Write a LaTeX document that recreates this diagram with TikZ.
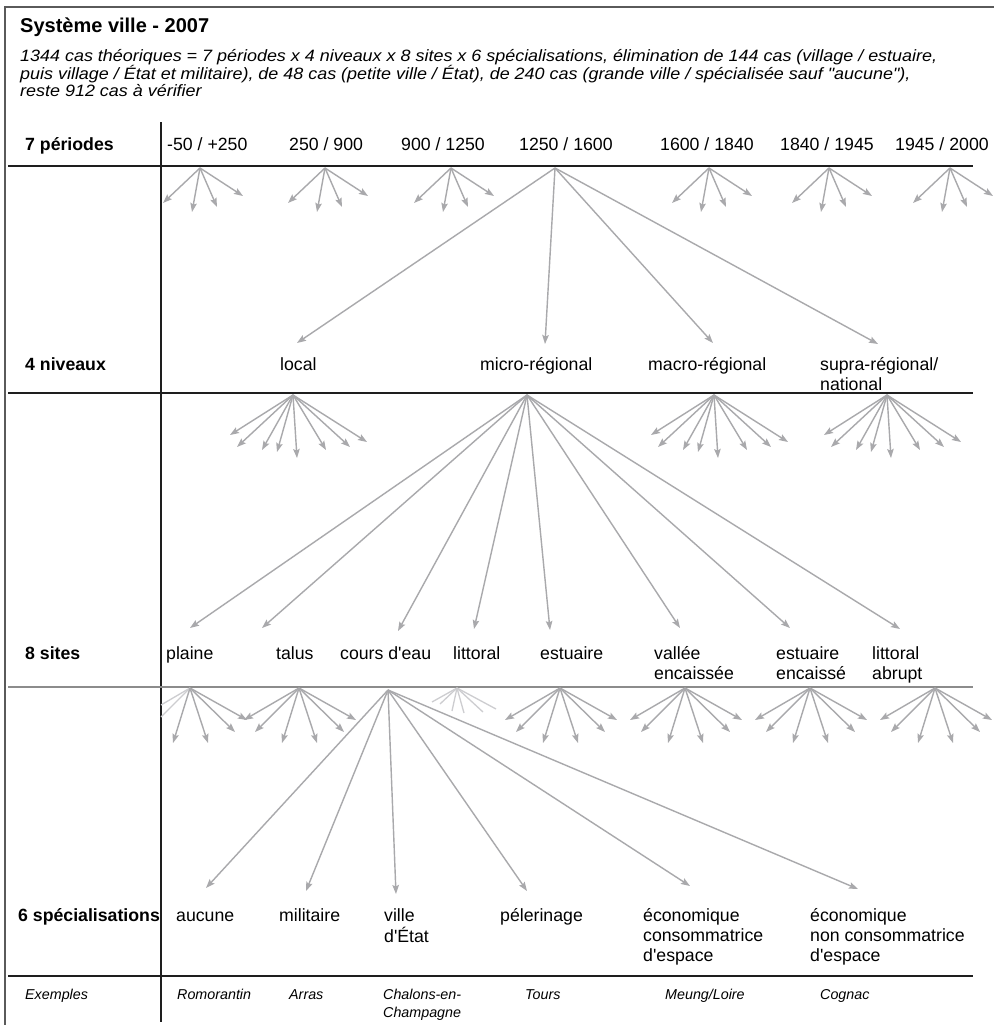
\documentclass[tikz,border=0pt]{standalone}
\usepackage{fontspec}
\newfontfamily\lsans{Liberation Sans}
\newfontfamily\lsanswide{Liberation Sans}[FakeStretch=1.094]
\usetikzlibrary{arrows.meta}
\definecolor{arr}{HTML}{A9A9AC}
\definecolor{arrlight}{HTML}{CDCDD0}
\definecolor{rulek}{HTML}{1E1E1E}
\definecolor{rulegray}{HTML}{8C8C8C}
\definecolor{framec}{HTML}{5A5A5A}
\newcommand{\mlines}[1]{\begin{tabular}[t]{@{}l@{}}#1\end{tabular}}
\begin{document}
\begin{tikzpicture}[x=1pt,y=-1pt,
  lbl/.style={anchor=base west, inner sep=0pt, font=\lsans\fontsize{17.7}{20}\selectfont},
  rowhead/.style={anchor=base west, inner sep=0pt, font=\lsans\bfseries\fontsize{17.7}{20}\selectfont},
  ex/.style={anchor=base west, inner sep=0pt, font=\lsans\itshape\fontsize{14.3}{18}\selectfont},
  note/.style={anchor=base west, inner sep=0pt, font=\lsanswide\itshape\fontsize{16.4}{17}\selectfont},
  ttl/.style={anchor=base west, inner sep=0pt, font=\lsans\bfseries\fontsize{20}{22}\selectfont},
  fan/.style={draw=arr, line width=1.4pt, -{Stealth[length=9pt,width=6.5pt,inset=1.5pt]}},
  faint/.style={draw=arrlight, line width=1.3pt},
  rulerow/.style={draw=rulek, line width=1.8pt},
]
\useasboundingbox (0,0) rectangle (994,1025);
\fill[white] (0,0) rectangle (994,1025);

% frame
\draw[framec, line width=1.5pt] (5,1025) -- (5,7) -- (994,7);

% title and note
\node[ttl] (title) at (20,33) {Système ville - 2007};
\node[note] (n1) at (20,62) {1344 cas théoriques = 7 périodes x 4 niveaux x 8 sites x 6 spécialisations, élimination de 144 cas (village / estuaire,};
\node[note] (n2) at (20,79) {puis village / État et militaire), de 48 cas (petite ville / État), de 240 cas (grande ville / spécialisée sauf "aucune"),};
\node[note] (n3) at (20,96) {reste 912 cas à vérifier};

% rules
\draw[rulek, line width=1.6pt] (161,122) -- (161,1022);
\draw[rulerow] (8,166) -- (973,166);
\draw[rulerow] (8,393) -- (973,393);
\draw[rulegray, line width=1.8pt] (8,687) -- (973,687);
\draw[rulerow] (8,976) -- (973,976);

% row 1: periods
\node[rowhead] (h1) at (25,150) {7 périodes};
\node[lbl] (t1) at (167,150) {-50 / +250};
\node[lbl] (t2) at (289,150) {250 / 900};
\node[lbl] (t3) at (401,150) {900 / 1250};
\node[lbl] (t4) at (519,150) {1250 / 1600};
\node[lbl] (t5) at (660,150) {1600 / 1840};
\node[lbl] (t6) at (780,150) {1840 / 1945};
\node[lbl] (t7) at (895,150) {1945 / 2000};

% row 2: levels
\node[rowhead] (h2) at (25,370) {4 niveaux};
\node[lbl] (l1) at (280,370) {local};
\node[lbl] (l2) at (480,370) {micro-régional};
\node[lbl] (l3) at (648,370) {macro-régional};
\node[lbl] (l4) at (820,370) {\mlines{supra-régional/\\national}};

% row 3: sites
\node[rowhead] (h3) at (25,659) {8 sites};
\node[lbl] (s1) at (166,659) {plaine};
\node[lbl] (s2) at (276,659) {talus};
\node[lbl] (s3) at (340,659) {cours d'eau};
\node[lbl] (s4) at (453,659) {littoral};
\node[lbl] (s5) at (540,659) {estuaire};
\node[lbl] (s6) at (654,659) {\mlines{vallée\\encaissée}};
\node[lbl] (s7) at (776,659) {\mlines{estuaire\\encaissé}};
\node[lbl] (s8) at (872,659) {\mlines{littoral\\abrupt}};

% row 4: specialisations
\node[rowhead] (h4) at (18,921) {6 spécialisations};
\node[lbl] (c1) at (176,921) {aucune};
\node[lbl] (c2) at (279,921) {militaire};
\node[lbl] (c3) at (384,921) {\mlines{ville\\d'État}};
\node[lbl] (c4) at (500,921) {pélerinage};
\node[lbl] (c5) at (643,921) {\mlines{économique\\consommatrice\\d'espace}};
\node[lbl] (c6) at (810,921) {\mlines{économique\\non consommatrice\\d'espace}};

% examples
\node[ex] (e0) at (25,999) {Exemples};
\node[ex] (e1) at (177,999) {Romorantin};
\node[ex] (e2) at (289,999) {Arras};
\node[ex] (e3) at (383,999) {\mlines{Chalons-en-\\Champagne}};
\node[ex] (e4) at (525,999) {Tours};
\node[ex] (e5) at (665,999) {Meung/Loire};
\node[ex] (e6) at (820,999) {Cognac};

% small period fans
\foreach \n/\x in {a/200,b/325,c/451,e/709,f/829,g/950}{
  \coordinate (p\n) at (\x,168);
  \foreach \dx/\dy [count=\i] in {-37/35,-8/44,17/39,43/28}{
    \path (p\n) ++(\dx,\dy) coordinate (p\n t\i);
    \draw[fan] (p\n) -- (p\n t\i);
  }
}
% big period fan
\coordinate (pd) at (555,168);
\coordinate (pdt1) at (297,343);
\coordinate (pdt2) at (545,344);
\coordinate (pdt3) at (713,343);
\coordinate (pdt4) at (878,344);
\foreach \i in {1,...,4}{\draw[fan] (pd) -- (pdt\i);}

% small level fans
\foreach \n/\x in {a/293,c/714,d/887}{
  \coordinate (q\n) at (\x,395);
  \foreach \dx/\dy [count=\i] in {-63/40,-56/52,-31/55,-16/57,4/63,33/55,57/52,74/47}{
    \path (q\n) ++(\dx,\dy) coordinate (q\n t\i);
    \draw[fan] (q\n) -- (q\n t\i);
  }
}
% big level fan (micro-regional)
\coordinate (qb) at (527,395);
\coordinate (qbt1) at (190,628);
\coordinate (qbt2) at (262,628);
\coordinate (qbt3) at (398,631);
\coordinate (qbt4) at (474,629);
\coordinate (qbt5) at (550,630);
\coordinate (qbt6) at (680,628);
\coordinate (qbt7) at (790,628);
\coordinate (qbt8) at (900,629);
\foreach \i in {1,...,8}{\draw[fan] (qb) -- (qbt\i);}

% small site fans
\foreach \n/\x in {b/299,e/560,f/685,g/810,h/935}{
  \coordinate (r\n) at (\x,688);
  \foreach \dx/\dy [count=\i] in {-55/32,-44/44,-17/55,18/55,45/44,57/32}{
    \path (r\n) ++(\dx,\dy) coordinate (r\n t\i);
    \draw[fan] (r\n) -- (r\n t\i);
  }
}
% plaine fan, cut by the vertical rule
\coordinate (ra) at (190,688);
\coordinate (rat1) at (161,705);
\coordinate (rat2) at (161,717);
\draw[faint] (ra) -- (rat1);
\draw[faint] (ra) -- (rat2);
\foreach \dx/\dy [count=\i from 3] in {-17/55,18/55,45/44,57/32}{
  \path (ra) ++(\dx,\dy) coordinate (rat\i);
  \draw[fan] (ra) -- (rat\i);
}
% littoral faded fan
\coordinate (rd) at (457,688);
\foreach \x/\y [count=\i] in {432/702,440/704,452/711,464/713,483/712,496/709}{
  \coordinate (rdt\i) at (\x,\y);
  \draw[faint] (rd) -- (rdt\i);
}
% big site fan (cours d'eau)
\coordinate (rc) at (388,690);
\coordinate (rct1) at (206,888);
\coordinate (rct2) at (306,891);
\coordinate (rct3) at (396,894);
\coordinate (rct4) at (527,891);
\coordinate (rct5) at (690,886);
\coordinate (rct6) at (858,889);
\foreach \i in {1,...,6}{\draw[fan] (rc) -- (rct\i);}
\end{tikzpicture}
\end{document}
